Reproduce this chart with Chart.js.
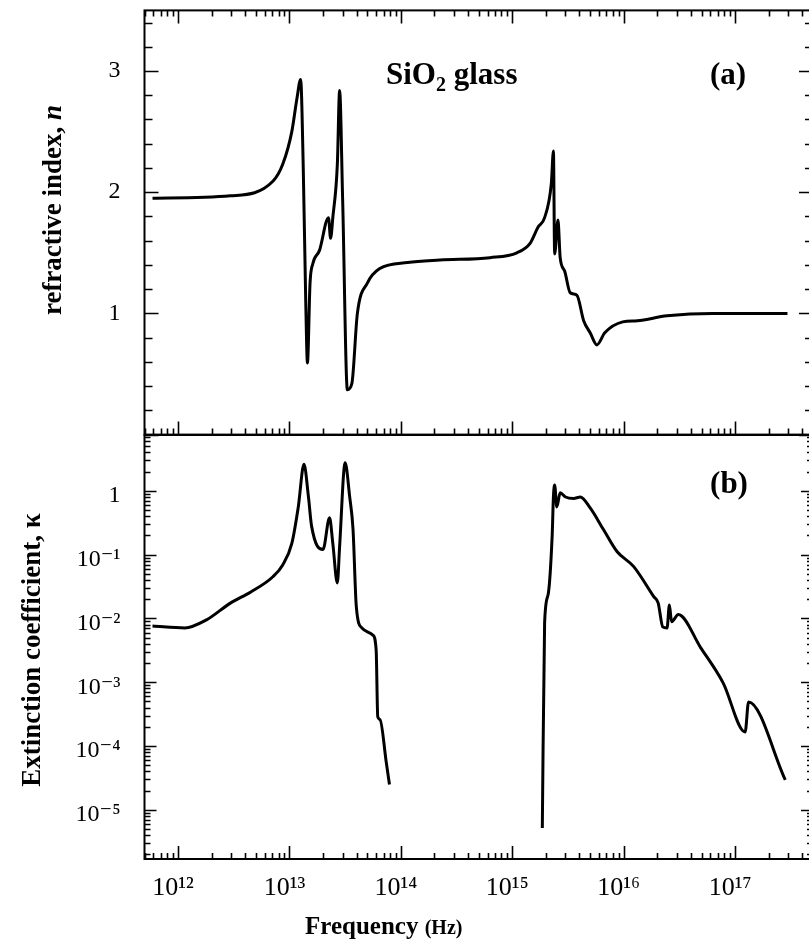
<!DOCTYPE html>
<html><head><meta charset="utf-8">
<script src="https://cdn.jsdelivr.net/npm/chart.js@4"></script>
<style>
html,body{margin:0;padding:0;background:#fff;overflow:hidden;width:809px;height:946px;}
#wrap{position:relative;width:809px;height:946px;overflow:hidden;background:#fff;}
#cA{position:absolute;left:0;top:0;width:820px;height:440px;}
#cB{position:absolute;left:0;top:430px;width:820px;height:516px;}
</style></head><body>
<div id="wrap"><canvas id="cA" width="820" height="440"></canvas><canvas id="cB" width="820" height="516"></canvas></div>
<script>
// ---- data ----
const nFreq = [5.9e11, 2.95e12, 7.1e12, 8.7e12, 1.05e13, 1.17e13, 1.26e13, 1.33e13, 1.40e13, 1.45e13, 1.53e13, 1.62e13, 1.86e13, 2.24e13, 2.34e13, 2.45e13, 2.69e13, 2.82e13, 3.0e13, 3.31e13, 3.63e13, 4.07e13, 5.0e13, 6.46e13, 1.15e14, 2.24e14, 6.3e14, 1.1e15, 1.45e15, 1.7e15, 1.95e15, 2.24e15, 2.34e15, 2.4e15, 2.57e15, 2.69e15, 2.95e15, 3.31e15, 3.8e15, 4.37e15, 5.0e15, 5.75e15, 6.76e15, 9.8e15, 1.32e16, 2.45e16, 6.3e16, 2.95e17];
const nValues = [1.95, 1.97, 2.09, 2.23, 2.50, 2.78, 2.93, 2.2, 1.1, 0.59, 1.25, 1.41, 1.52, 1.79, 1.62, 1.79, 2.23, 2.84, 1.95, 0.37, 0.42, 1.0, 1.25, 1.37, 1.42, 1.44, 1.46, 1.50, 1.58, 1.71, 1.79, 2.07, 2.34, 1.49, 1.77, 1.46, 1.35, 1.17, 1.15, 0.94, 0.84, 0.74, 0.84, 0.93, 0.94, 0.98, 1.0, 1.0];

const kLowFreq = [5.9e11, 1.15e12, 1.8e12, 2.95e12, 4.5e12, 7.1e12, 8.7e12, 1.05e13, 1.2e13, 1.35e13, 1.48e13, 1.58e13, 2.0e13, 2.29e13, 2.45e13, 2.69e13, 2.82e13, 3.16e13, 3.47e13, 3.72e13, 3.98e13, 4.47e13, 5.6e13, 6.0e13, 6.2e13, 6.5e13, 7.4e13, 7.9e13];
const kLowValues = [7.6e-3, 7.1e-3, 9.5e-3, 1.74e-2, 2.6e-2, 4.5e-2, 6.9e-2, 0.15, 0.56, 2.6, 0.81, 0.28, 0.12, 0.38, 0.15, 0.036, 0.135, 2.75, 0.81, 0.25, 0.0155, 0.0071, 0.0055, 0.0032, 2.9e-4, 2.6e-4, 5.5e-5, 2.5e-5];

const kHighFreq = [1.86e15, 1.95e15, 2.1e15, 2.28e15, 2.34e15, 2.4e15, 2.51e15, 2.69e15, 3.0e15, 3.55e15, 4.07e15, 5.0e15, 6.6e15, 8.7e15, 1.23e16, 1.86e16, 2.04e16, 2.24e16, 2.45e16, 2.57e16, 2.69e16, 3.09e16, 4.9e16, 7.8e16, 1.23e17, 1.32e17, 2.82e17];
const kHighValues = [5.2e-6, 8.5e-3, 2.4e-2, 0.2, 0.81, 1.23, 0.56, 0.93, 0.8, 0.76, 0.8, 0.54, 0.245, 0.112, 0.065, 0.022, 0.0174, 0.0074, 0.0071, 0.0162, 0.0089, 0.0115, 0.0035, 9.8e-4, 1.66e-4, 4.9e-4, 2.95e-5];

const xTickValues = [1e12, 1e13, 1e14, 1e15, 1e16, 1e17];
const xTickLabels = ['10¹²', '10¹³', '10¹⁴', '10¹⁵', '10¹⁶', '10¹⁷'];
const nTickValues = [1, 2, 3];
const nTickLabels = ['1', '2', '3'];
const kTickValues = [1, 0.1, 0.01, 0.001, 0.0001, 0.00001];
const kTickLabels = ['1', '10⁻¹', '10⁻²', '10⁻³', '10⁻⁴', '10⁻⁵'];

// ---- styling ----
const SERIF = '"Liberation Serif", "Times New Roman", "DejaVu Serif", serif';
const X_MIN = 5e11, X_MAX = 5e17;
const N_MIN = 0, N_MAX = 3.5;
const K_MIN = 1.7e-6, K_MAX = 7.5;

function labelFor(values, labels) {
  return function (v) {
    for (let i = 0; i < values.length; i++) {
      if (Math.abs(v / values[i] - 1) < 1e-6) return labels[i];
    }
    return '';
  };
}
function pts(xs, ys) { return xs.map((x, i) => ({ x: x, y: ys[i] })); }
function fitY(s) { s.width = 144.5; s.paddingTop = 0; s.paddingBottom = 0; }
function fitX(s) { s.height = 87; s.paddingLeft = 0; s.paddingRight = 0; }

const inwardTicks = {
  id: 'inwardTicks',
  afterDatasetsDraw(chart, args, o) {
    const { ctx, chartArea: a } = chart;
    const x = chart.scales.x, y = chart.scales.y;
    ctx.save();
    ctx.strokeStyle = '#000';
    ctx.lineWidth = 1.6;
    ctx.beginPath();
    for (let d = 11; d <= 18; d++) {
      for (let m = 1; m <= 9; m++) {
        const v = m * Math.pow(10, d);
        if (v < x.min || v > x.max) continue;
        const px = Math.round(x.getPixelForValue(v)) + 0.5;
        const len = m === 1 ? 13 : 6;
        if (o.bottom) { ctx.moveTo(px, a.bottom); ctx.lineTo(px, a.bottom - len); }
        if (o.top) { ctx.moveTo(px, a.top); ctx.lineTo(px, a.top + len); }
      }
    }
    const yt = [];
    if (o.log) {
      for (let d = -7; d <= 1; d++) for (let m = 1; m <= 9; m++) {
        const v = m * Math.pow(10, d);
        if (v >= y.min && v <= y.max) yt.push({ v: v, major: m === 1 });
      }
    } else {
      for (let i = 0; i <= 17; i++) yt.push({ v: i / 5, major: i % 5 === 0 });
    }
    yt.forEach(t => {
      const py = Math.round(y.getPixelForValue(t.v)) + 0.5;
      const len = t.major ? o.yMajor : o.yMinor;
      ctx.moveTo(a.left, py); ctx.lineTo(a.left + len, py);
      ctx.moveTo(a.right, py); ctx.lineTo(a.right - len, py);
    });
    ctx.stroke();
    ctx.lineWidth = 2;
    ctx.strokeRect(a.left, a.top, a.right - a.left, a.bottom - a.top);
    ctx.restore();
  }
};

function drawRuns(ctx, runs, cx, cy, rot, align) {
  ctx.save();
  ctx.translate(cx, cy);
  ctx.rotate(rot);
  let total = 0;
  runs.forEach(r => { ctx.font = r.font; r.w = ctx.measureText(r.t).width; total += r.w; });
  let x = align === 'center' ? -total / 2 : 0;
  ctx.textBaseline = 'alphabetic';
  ctx.textAlign = 'left';
  ctx.fillStyle = '#000';
  runs.forEach(r => { ctx.font = r.font; ctx.fillText(r.t, x, r.dy || 0); x += r.w; });
  ctx.restore();
}

const textsA = {
  id: 'textsA',
  afterDraw(chart) {
    const ctx = chart.ctx;
    drawRuns(ctx, [
      { t: 'refractive index, ', font: 'bold 27px ' + SERIF },
      { t: 'n', font: 'italic bold 27px ' + SERIF }
    ], 61, 210, -Math.PI / 2, 'center');
    drawRuns(ctx, [
      { t: 'SiO', font: 'bold 31px ' + SERIF },
      { t: '2', font: 'bold 20px ' + SERIF, dy: 7 },
      { t: ' glass', font: 'bold 31px ' + SERIF }
    ], 386, 84, 0, 'left');
    drawRuns(ctx, [{ t: '(a)', font: 'bold 31px ' + SERIF }], 728, 84, 0, 'center');
  }
};
const OFFB = 430;
const textsB = {
  id: 'textsB',
  afterDraw(chart) {
    const ctx = chart.ctx;
    drawRuns(ctx, [
      { t: 'Extinction coefficient, κ', font: 'bold 27px ' + SERIF }
    ], 40, 650 - OFFB, -Math.PI / 2, 'center');
    drawRuns(ctx, [{ t: '(b)', font: 'bold 31px ' + SERIF }], 729, 493 - OFFB, 0, 'center');
    drawRuns(ctx, [
      { t: 'Frequency ', font: 'bold 25px ' + SERIF },
      { t: '(Hz)', font: 'bold 20px ' + SERIF }
    ], 305, 934 - OFFB, 0, 'left');
  }
};

const lineStyle = {
  borderColor: '#000', borderWidth: 3, pointRadius: 0, fill: false,
  cubicInterpolationMode: 'monotone'
};

const chartA = new Chart(document.getElementById('cA'), {
  type: 'line',
  data: { datasets: [Object.assign({ label: 'n', data: pts(nFreq, nValues) }, lineStyle)] },
  options: {
    responsive: false, animation: false, events: [],
    layout: { padding: { top: 10.4, right: 7, bottom: 5.4, left: 0 } },
    plugins: { legend: { display: false }, tooltip: { enabled: false },
      inwardTicks: { top: true, bottom: true, log: false, yMajor: 14, yMinor: 8 } },
    scales: {
      x: { type: 'logarithmic', min: X_MIN, max: X_MAX, bounds: 'data', display: false },
      y: {
        type: 'linear', min: N_MIN, max: N_MAX, bounds: 'data',
        grid: { display: false, drawTicks: false }, border: { display: false },
        afterBuildTicks: s => { s.ticks = nTickValues.map(v => ({ value: v })); },
        afterFit: fitY,
        ticks: { callback: labelFor(nTickValues, nTickLabels), padding: 24, color: '#000',
          font: { family: SERIF, size: 24 } }
      }
    }
  },
  plugins: [inwardTicks, textsA]
});

const chartB = new Chart(document.getElementById('cB'), {
  type: 'line',
  data: { datasets: [
    Object.assign({ label: 'kappa low', data: pts(kLowFreq, kLowValues) }, lineStyle),
    Object.assign({ label: 'kappa high', data: pts(kHighFreq, kHighValues) }, lineStyle)
  ] },
  options: {
    responsive: false, animation: false, events: [],
    layout: { padding: { top: 5, right: 7, bottom: 0, left: 0 } },
    plugins: { legend: { display: false }, tooltip: { enabled: false },
      inwardTicks: { top: false, bottom: true, log: true, yMajor: 12, yMinor: 6 } },
    scales: {
      x: {
        type: 'logarithmic', min: X_MIN, max: X_MAX, bounds: 'data',
        grid: { display: false, drawTicks: false }, border: { display: false },
        afterBuildTicks: s => { s.ticks = xTickValues.map(v => ({ value: v })); },
        afterFit: fitX,
        ticks: { callback: labelFor(xTickValues, xTickLabels), padding: 14, labelOffset: -5,
          autoSkip: false, maxRotation: 0, color: '#000', font: { family: SERIF, size: 26 } }
      },
      y: {
        type: 'logarithmic', min: K_MIN, max: K_MAX, bounds: 'data',
        grid: { display: false, drawTicks: false }, border: { display: false },
        afterBuildTicks: s => { s.ticks = kTickValues.map(v => ({ value: v })); },
        afterFit: fitY,
        ticks: { callback: labelFor(kTickValues, kTickLabels), padding: 24, labelOffset: 5,
          autoSkip: false, color: '#000', font: { family: SERIF, size: 24 } }
      }
    }
  },
  plugins: [inwardTicks, textsB]
});
</script>
</body></html>
